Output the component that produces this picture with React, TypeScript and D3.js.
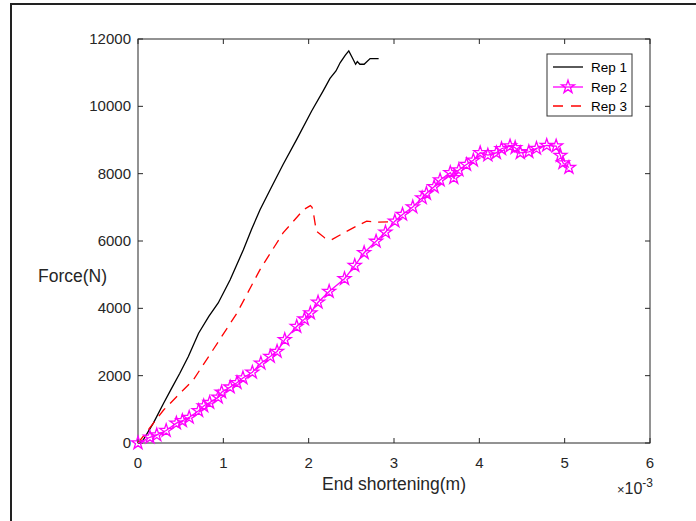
import * as d3 from "d3";

// x values in units of 1e-3 m, force in N
const rep1X = [0, 0.06, 0.18, 0.3, 0.395, 0.49, 0.59, 0.71, 0.83, 0.94, 1.08, 1.235, 1.33, 1.43, 1.55, 1.7, 1.86, 2.035, 2.17, 2.25, 2.32, 2.37, 2.43, 2.47, 2.51, 2.55, 2.57, 2.6, 2.65, 2.72, 2.82];
const rep1Y = [0, 90, 590, 1180, 1630, 2070, 2570, 3260, 3760, 4160, 4850, 5740, 6340, 6930, 7530, 8270, 9020, 9860, 10460, 10830, 11050, 11300, 11520, 11646, 11450, 11250, 11330, 11250, 11250, 11420, 11420];

const rep2X = [0, 0.14, 0.22, 0.33, 0.45, 0.52, 0.6, 0.71, 0.77, 0.84, 0.94, 0.98, 1.08, 1.16, 1.23, 1.34, 1.44, 1.55, 1.63, 1.72, 1.86, 1.95, 2.02, 2.11, 2.24, 2.42, 2.54, 2.65, 2.79, 2.9, 3.01, 3.1, 3.22, 3.33, 3.38, 3.47, 3.54, 3.66, 3.7, 3.76, 3.85, 3.93, 4.01, 4.1, 4.2, 4.26, 4.36, 4.42, 4.48, 4.58, 4.67, 4.79, 4.9, 4.95, 4.98, 5.05];
const rep2Y = [0, 170, 240, 370, 590, 660, 760, 960, 1100, 1200, 1360, 1510, 1660, 1790, 1930, 2100, 2370, 2570, 2720, 3070, 3460, 3680, 3860, 4180, 4500, 4880, 5270, 5650, 5990, 6260, 6590, 6790, 7010, 7280, 7410, 7610, 7810, 8030, 7880, 8110, 8270, 8400, 8620, 8550, 8620, 8740, 8820, 8770, 8620, 8650, 8750, 8840, 8820, 8540, 8320, 8180];

const rep3X = [0, 0.3, 0.65, 0.88, 1.16, 1.43, 1.7, 1.94, 2.02, 2.04, 2.055, 2.09, 2.19, 2.27, 2.41, 2.56, 2.68, 2.8, 2.93];
const rep3Y = [0, 980, 1880, 2770, 3860, 5150, 6240, 6930, 7050, 7000, 6840, 6290, 6090, 6040, 6240, 6440, 6590, 6560, 6570];

const xTicks = [0, 1, 2, 3, 4, 5, 6];
const yTicks = [0, 2000, 4000, 6000, 8000, 10000, 12000];
const legendNames = ["Rep 1", "Rep 2", "Rep 3"];

const W = 696;
const H = 521;
const FONT = "'Liberation Sans', Arial, Helvetica, sans-serif";
const AX = "#262626";

export default function App() {
  const x = d3.scaleLinear().domain([0, 6]).range([138, 650]);
  const y = d3.scaleLinear().domain([0, 12000]).range([443, 39]);

  const pts = (xs: number[], ys: number[]) => xs.map((v, i) => [v, ys[i]] as [number, number]);
  const line = d3
    .line<[number, number]>()
    .x((d) => x(d[0]))
    .y((d) => y(d[1]));

  const r1 = pts(rep1X, rep1Y);
  const r2 = pts(rep2X, rep2Y);
  const r3 = pts(rep3X, rep3Y);
  const star = d3.symbol(d3.symbolStar, 52)() as string;

  const [x0, x1] = x.range();
  const [yb, yt] = y.range();
  const tickLen = 5;

  const lx = 547, ly = 54, lw = 85, lh = 62;
  const rows = [67, 87, 106];

  return (
    <svg
      width={W}
      height={H}
      style={{ position: "absolute", left: 0, top: 0, background: "#fff" }}
      fontFamily={FONT}
    >
      {/* outer figure frame */}
      <path d={`M11,${H} V4 H${W}`} fill="none" stroke="#222" strokeWidth={2} />

      {/* axes box */}
      <rect x={x0} y={yt} width={x1 - x0} height={yb - yt} fill="#fff" stroke={AX} strokeWidth={1} />

      {xTicks.map((t) => (
        <g key={"xt" + t}>
          <line x1={x(t)} x2={x(t)} y1={yb} y2={yb - tickLen} stroke={AX} />
          <line x1={x(t)} x2={x(t)} y1={yt} y2={yt + tickLen} stroke={AX} />
          <text x={x(t)} y={468} fontSize={15} textAnchor="middle" fill={AX}>
            {t}
          </text>
        </g>
      ))}
      {yTicks.map((t) => (
        <g key={"yt" + t}>
          <line x1={x0} x2={x0 + tickLen} y1={y(t)} y2={y(t)} stroke={AX} />
          <line x1={x1} x2={x1 - tickLen} y1={y(t)} y2={y(t)} stroke={AX} />
          <text x={131} y={y(t) + 5} fontSize={15} textAnchor="end" fill={AX}>
            {t}
          </text>
        </g>
      ))}

      <text x={394} y={490} fontSize={17.5} textAnchor="middle" fill={AX}>
        End shortening(m)
      </text>
      <text x={72.5} y={282} fontSize={17.5} textAnchor="middle" fill={AX}>
        Force(N)
      </text>
      <text x={653} y={494} fontSize={16} textAnchor="end" fill={AX}>
        <tspan fontSize={13}>×</tspan>10
        <tspan fontSize={12} dy={-7}>-3</tspan>
      </text>

      {/* series */}
      <path d={line(r1) as string} fill="none" stroke="#000" strokeWidth={1.3} />
      <path d={line(r3) as string} fill="none" stroke="#ff0000" strokeWidth={1.3} strokeDasharray="10,7" />
      <path d={line(r2) as string} fill="none" stroke="#ff00ff" strokeWidth={1.3} />
      {r2.map((d, i) => (
        <path
          key={"s" + i}
          d={star}
          transform={`translate(${x(d[0])},${y(d[1])})`}
          fill="none"
          stroke="#ff00ff"
          strokeWidth={1.3}
        />
      ))}

      {/* legend */}
      <rect x={lx} y={ly} width={lw} height={lh} fill="#fff" stroke="#333" strokeWidth={1} />
      {legendNames.map((name, i) => (
        <g key={name}>
          {i === 0 && <line x1={553} x2={583} y1={rows[i]} y2={rows[i]} stroke="#000" strokeWidth={1.3} />}
          {i === 1 && (
            <g>
              <line x1={553} x2={583} y1={rows[i]} y2={rows[i]} stroke="#ff00ff" strokeWidth={1.3} />
              <path d={star} transform={`translate(568,${rows[i]})`} fill="none" stroke="#ff00ff" strokeWidth={1.3} />
            </g>
          )}
          {i === 2 && (
            <line
              x1={553}
              x2={583}
              y1={rows[i]}
              y2={rows[i]}
              stroke="#ff0000"
              strokeWidth={1.3}
              strokeDasharray="10,8"
            />
          )}
          <text x={591} y={rows[i] + 5} fontSize={13.5} fill="#000">
            {name}
          </text>
        </g>
      ))}
    </svg>
  );
}
